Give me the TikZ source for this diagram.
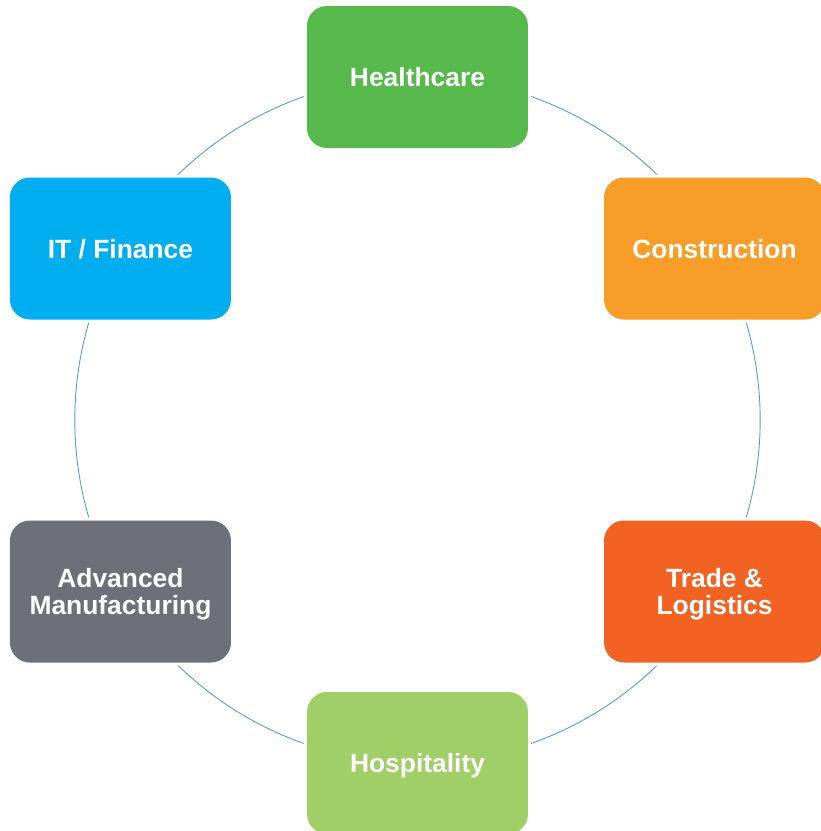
\documentclass[tikz,border=0pt]{standalone}
\usepackage{fontspec}
\setmainfont{Liberation Sans}
\usetikzlibrary{positioning,backgrounds}

\definecolor{healthgreen}{HTML}{57B94B}
\definecolor{buildorange}{HTML}{F89D28}
\definecolor{tradered}{HTML}{F26323}
\definecolor{hospgreen}{HTML}{A1CF67}
\definecolor{mfggray}{HTML}{6B7079}
\definecolor{itblue}{HTML}{00AEEF}
\definecolor{ringblue}{HTML}{5B9BD5}

\begin{document}
\begin{tikzpicture}[
  field/.style={rectangle, rounded corners=20pt, minimum width=221pt, minimum height=142pt,
    align=center, text=white, font=\bfseries\fontsize{26.4}{27.5}\selectfont,
    text depth=0pt, preaction={draw=white, line width=6pt}},
  ring/.style={draw=ringblue, line width=0.9pt, bend right=30, looseness=0.91}]
  \useasboundingbox (-417.5pt,-411pt) rectangle (403.5pt,420pt);

  % six sectors around the ring
  \node[field, fill=healthgreen] (health) at (90:343pt) {Healthcare};
  \node[field, fill=itblue] (itfin) at (150:343pt) {IT / Finance};
  \node[field, fill=mfggray] (manuf) at (210:343pt) {Advanced\\Manufacturing};
  \node[field, fill=hospgreen] (hosp) at (270:343pt) {Hospitality};
  \node[field, fill=tradered] (trade) at (330:343pt) {Trade \&\\Logistics};
  \node[field, fill=buildorange] (build) at (30:343pt) {Construction};

  % ring behind the boxes
  \begin{scope}[on background layer]
    \draw[ring] (health.center) to (itfin.center);
    \draw[ring] (itfin.center) to (manuf.center);
    \draw[ring] (manuf.center) to (hosp.center);
    \draw[ring] (hosp.center) to (trade.center);
    \draw[ring] (trade.center) to (build.center);
    \draw[ring] (build.center) to (health.center);
  \end{scope}
\end{tikzpicture}
\end{document}
